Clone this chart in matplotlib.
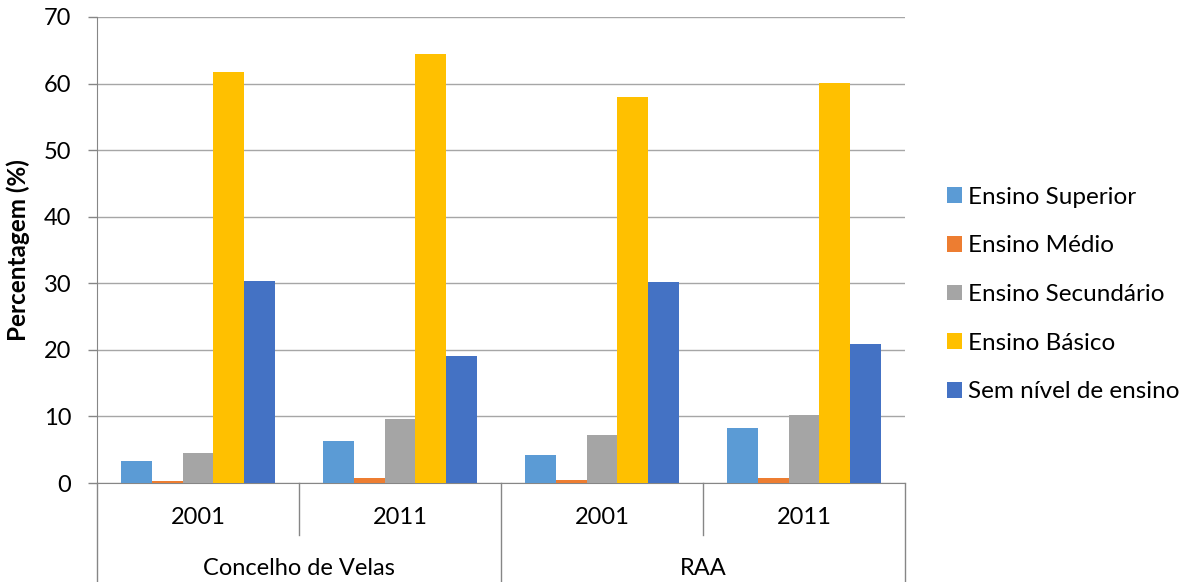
import numpy as np
import matplotlib.pyplot as plt
from matplotlib.patches import Patch

plt.rcParams['font.family'] = ['Lato', 'DejaVu Sans']

# data
years = ['2001', '2011', '2001', '2011']
groups = ['Concelho de Velas', 'RAA']
series = ['Ensino Superior', 'Ensino Médio', 'Ensino Secundário',
          'Ensino Básico', 'Sem nível de ensino']
superior = [3.3, 6.3, 4.2, 8.3]
medio = [0.3, 0.7, 0.5, 0.7]
secundario = [4.5, 9.6, 7.2, 10.2]
basico = [61.7, 64.4, 58.0, 60.1]
sem_nivel = [30.3, 19.1, 30.2, 20.9]
colors = ['#5B9BD5', '#ED7D31', '#A5A5A5', '#FFC000', '#4472C4']

values = [superior, medio, secundario, basico, sem_nivel]

fig = plt.figure(figsize=(11.92, 5.82), dpi=100)
ax = fig.add_axes([97/1192, 99/582, 808/1192, 466/582])

x = np.arange(len(years))
w = 0.153
for i, (vals, c) in enumerate(zip(values, colors)):
    ax.bar(x + (i - 2) * w, vals, width=w, color=c, zorder=3)

ax.set_xlim(-0.5, 3.5)
ax.set_ylim(0, 70)
ax.set_yticks(range(0, 71, 10))
ax.yaxis.grid(True, color='#A6A6A6', linewidth=1, zorder=0)
ax.tick_params(axis='y', labelsize=17, length=6.5, color='#868686', width=1, pad=12)
ax.set_xticks([])
for s in ['top', 'right']:
    ax.spines[s].set_visible(False)
ax.spines['left'].set_color('#868686')
ax.spines['bottom'].set_color('#868686')
ax.set_ylabel('Percentagem (%)', fontsize=17.5, fontweight='bold')
ax.yaxis.set_label_coords(-0.083, 0.5)

# multi-level category axis
trans = ax.get_xaxis_transform()
for xs in [-0.5, 1.5, 3.5]:
    ax.plot([xs, xs], [0, -0.212], color='#868686', lw=1, transform=trans, clip_on=False)
for xs in [0.5, 2.5]:
    ax.plot([xs, xs], [0, -0.112], color='#868686', lw=1, transform=trans, clip_on=False)
for xi, y in zip(x, years):
    ax.text(xi, -0.073, y, transform=trans, ha='center', va='center', fontsize=17)
for gi, g in enumerate(groups):
    ax.text(gi * 2 + 0.5, -0.183, g, transform=trans, ha='center', va='center', fontsize=17)

handles = [Patch(facecolor=c, label=s) for s, c in zip(series, colors)]
fig.legend(handles=handles, loc='center left', bbox_to_anchor=(0.7945, 0.494),
           frameon=False, fontsize=17.5, handlelength=0.62, handleheight=0.62,
           handletextpad=0.25, labelspacing=1.14, borderpad=0, borderaxespad=0)

fig.savefig('out.png', dpi=100)
